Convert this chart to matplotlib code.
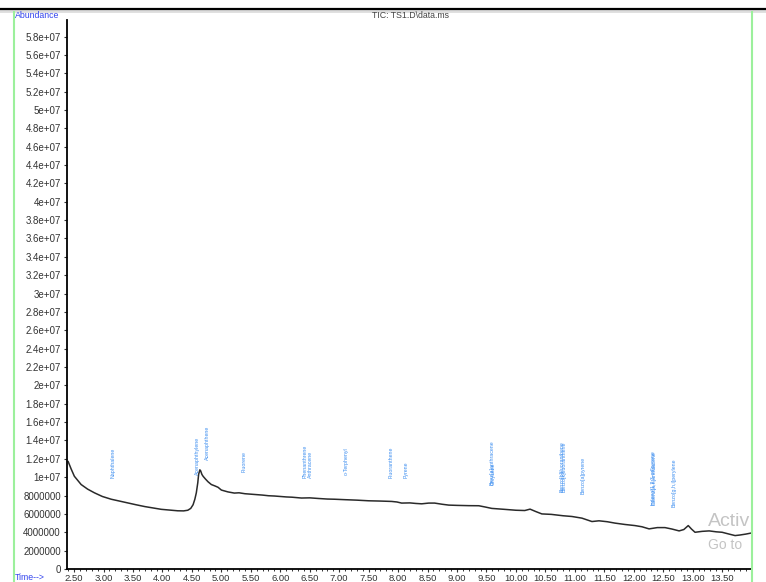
import numpy as np
import matplotlib.pyplot as plt
from matplotlib.lines import Line2D
from matplotlib.ticker import MultipleLocator, FuncFormatter

# TIC trace (time in min, abundance)
time = [2.40, 2.45, 2.505, 2.62, 2.73, 2.845, 2.98, 3.13, 3.27, 3.41, 3.55, 3.70,
        3.84, 3.98, 4.12, 4.26, 4.36, 4.43, 4.48, 4.52, 4.55, 4.575, 4.60, 4.614,
        4.635, 4.648, 4.67, 4.69, 4.73, 4.774, 4.83, 4.89, 4.944, 5.00, 5.11, 5.22,
        5.30, 5.40, 5.50, 5.60, 5.70, 5.80, 5.90, 6.00, 6.10, 6.20, 6.36, 6.50,
        6.65, 6.80, 6.92, 7.10, 7.30, 7.50, 7.70, 7.89, 7.98, 8.06, 8.20, 8.30,
        8.40, 8.52, 8.62, 8.75, 8.86, 9.00, 9.20, 9.37, 9.48, 9.59, 9.80, 10.00,
        10.15, 10.24, 10.34, 10.44, 10.60, 10.80, 10.95, 11.12, 11.29, 11.41, 11.55,
        11.68, 11.85, 12.02, 12.14, 12.26, 12.40, 12.53, 12.65, 12.77, 12.85,
        12.925, 12.98, 13.04, 13.16, 13.28, 13.40, 13.50, 13.62, 13.72, 13.80,
        13.90, 13.98]
abundance = [11.7e6, 10.9e6, 10.1e6, 9.2e6, 8.7e6, 8.3e6, 7.9e6, 7.6e6, 7.4e6,
             7.2e6, 7.0e6, 6.8e6, 6.65e6, 6.5e6, 6.42e6, 6.34e6, 6.33e6, 6.4e6,
             6.6e6, 7.0e6, 7.6e6, 8.3e6, 9.4e6, 10.3e6, 10.8e6, 10.7e6, 10.3e6,
             10.1e6, 9.8e6, 9.5e6, 9.2e6, 9.05e6, 8.9e6, 8.6e6, 8.4e6, 8.27e6,
             8.3e6, 8.2e6, 8.15e6, 8.1e6, 8.05e6, 7.98e6, 7.95e6, 7.9e6, 7.85e6,
             7.82e6, 7.73e6, 7.75e6, 7.68e6, 7.62e6, 7.6e6, 7.55e6, 7.5e6, 7.43e6,
             7.4e6, 7.36e6, 7.3e6, 7.18e6, 7.2e6, 7.14e6, 7.1e6, 7.18e6, 7.18e6,
             7.05e6, 6.96e6, 6.93e6, 6.9e6, 6.89e6, 6.75e6, 6.6e6, 6.5e6, 6.4e6,
             6.37e6, 6.52e6, 6.25e6, 6.0e6, 5.95e6, 5.8e6, 5.72e6, 5.54e6, 5.17e6,
             5.25e6, 5.15e6, 5.0e6, 4.85e6, 4.73e6, 4.6e6, 4.37e6, 4.51e6, 4.51e6,
             4.35e6, 4.15e6, 4.3e6, 4.73e6, 4.35e6, 4.0e6, 4.1e6, 4.15e6, 4.05e6,
             4.0e6, 3.8e6, 3.64e6, 3.7e6, 3.8e6, 3.9e6]

# compound labels: name, retention time, label bottom
compounds = ['Naphthalene', 'Acenaphthylene', 'Acenaphthene', 'Fluorene',
             'Phenanthrene', 'Anthracene', 'o-Terphenyl', 'Fluoranthene', 'Pyrene',
             'Benz[a]anthracene', 'Chrysene', 'Benzo[b]fluoranthene',
             'Benzo[k]fluoranthene', 'Benzo[a]pyrene', 'Indeno[1,2,3-cd]pyrene',
             'Dibenz[a,h]anthracene', 'Benzo[g,h,i]perylene']
comp_rt = [3.17, 4.59, 4.77, 5.38, 6.42, 6.52, 7.12, 7.88, 8.14, 9.59, 9.62,
           10.78, 10.81, 11.14, 12.32, 12.35, 12.68]
comp_y = [9.95e6, 10.2e6, 11.9e6, 10.6e6, 9.95e6, 9.95e6, 10.2e6, 9.95e6, 9.95e6,
          9.2e6, 9.2e6, 8.4e6, 8.4e6, 8.2e6, 7.0e6, 7.0e6, 6.8e6]

plt.rcParams['font.family'] = ['Liberation Sans', 'DejaVu Sans']

fig = plt.figure(figsize=(7.66, 5.82), dpi=100)
ax = fig.add_axes([67/766, 13/582, (751-67)/766, (569-20)/582])

ax.plot(time, abundance, color='#2a2a2a', lw=1.1)

for name, rt, yb in zip(compounds, comp_rt, comp_y):
    ax.text(rt, yb, name, rotation=90, ha='center', va='bottom',
            fontsize=3.8, color='#3d8ef0')

ax.set_xlim(2.38, 13.99)
ax.set_ylim(0, 5.98e7)
ax.xaxis.set_major_locator(MultipleLocator(0.5))
ax.xaxis.set_minor_locator(MultipleLocator(0.1))
ax.yaxis.set_major_locator(MultipleLocator(2e6))
ax.xaxis.set_major_formatter(FuncFormatter(lambda v, p: '%.2f' % v))


def yfmt(v, p):
    if v == 0:
        return '0'
    if v < 1e7:
        return '%d' % v
    s = '%.1fe+07' % (v / 1e7)
    return s.replace('.0e', 'e')


ax.yaxis.set_major_formatter(FuncFormatter(yfmt))
for s in ['top', 'right']:
    ax.spines[s].set_visible(False)
ax.spines['left'].set_linewidth(1.3)
ax.spines['bottom'].set_linewidth(1.3)
ax.tick_params(axis='both', labelsize=7, colors='#333333', length=2.5, width=0.8, pad=2)
ax.tick_params(axis='x', labelsize=6.8, pad=1)
ax.tick_params(axis='x', which='minor', length=1.5, width=0.7, colors='#333333')

# frame decorations
fig.add_artist(Line2D([0, 1], [1 - 11/582, 1 - 11/582], color='#dddddd', lw=2,
                      transform=fig.transFigure))
fig.add_artist(Line2D([0, 1], [1 - 8.5/582, 1 - 8.5/582], color='black', lw=1.6,
                      transform=fig.transFigure))
for gx in [14/766, 752/766]:
    fig.add_artist(Line2D([gx, gx], [0, 1 - 12/582], color='#9cf09c', lw=1.5,
                          transform=fig.transFigure))

fig.text(15/766, 1 - 15.5/582, 'Abundance', color='#3344ee', fontsize=6.3,
         ha='left', va='center')
fig.text(410/766, 1 - 15.5/582, 'TIC: TS1.D\\data.ms', color='#444444', fontsize=6.3,
         ha='center', va='center')
fig.text(15/766, 1 - 577/582, 'Time-->', color='#3344ee', fontsize=6.3,
         ha='left', va='center')

# screen-capture watermark (cut at the right edge in the reference)
fig.text(708/766, 1 - 522/582, 'Activ', color='#c4c4c4', fontsize=14,
         ha='left', va='center')
fig.text(708/766, 1 - 545/582, 'Go to', color='#c4c4c4', fontsize=10,
         ha='left', va='center')

fig.savefig('out.png', dpi=100)
